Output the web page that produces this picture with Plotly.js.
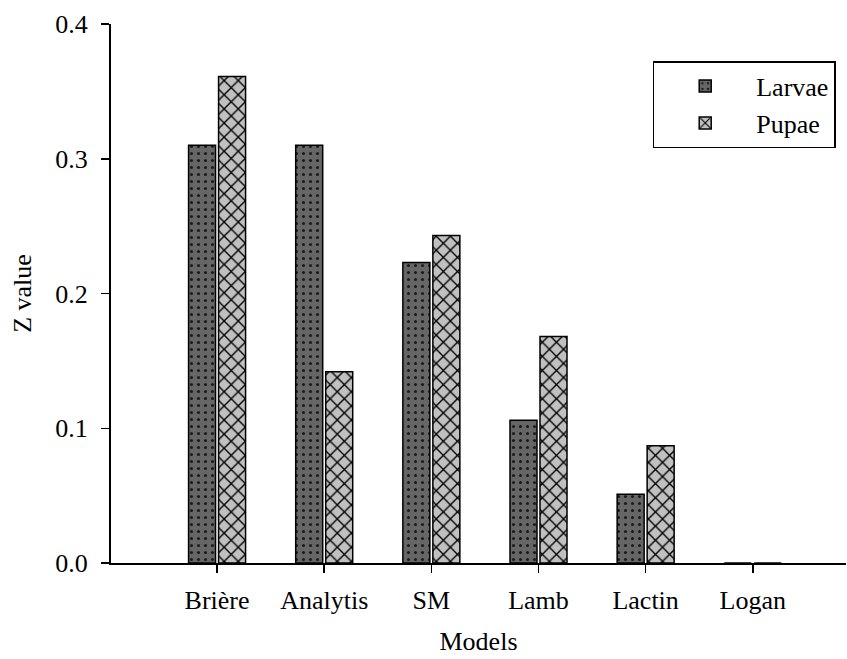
<!DOCTYPE html>
<html>
<head>
<meta charset="utf-8">
<script src="https://cdn.plot.ly/plotly-3.0.1.min.js"></script>
<style>html,body{margin:0;padding:0;background:#fff;}#chart{width:847px;height:659px;}</style>
</head>
<body>
<div id="chart"></div>
<script>
const models = ["Brière", "Analytis", "SM", "Lamb", "Lactin", "Logan"];
const larvae = [0.310, 0.310, 0.223, 0.106, 0.051, 0];
const pupae  = [0.361, 0.142, 0.243, 0.168, 0.087, 0];
const yTicks = [0.0, 0.1, 0.2, 0.3, 0.4];

const font = "Liberation Serif";

const traces = [
  {
    type: "bar", name: "Larvae", x: models, y: larvae,
    marker: {
      color: "#666666",
      line: {color: "#000", width: 1.5},
      pattern: {shape: ".", fgcolor: "#1a1a1a", bgcolor: "#666666", size: 7, solidity: 0.15}
    }
  },
  {
    type: "bar", name: "Pupae", x: models, y: pupae,
    marker: {
      color: "#c0c0c0",
      line: {color: "#000", width: 1.5},
      pattern: {shape: "x", fgcolor: "#000", bgcolor: "#c0c0c0", size: 10, solidity: 0.25}
    }
  }
];

const layout = {
  width: 847, height: 659,
  margin: {l: 111, r: 1, t: 24, b: 96},
  paper_bgcolor: "#fff", plot_bgcolor: "#fff",
  font: {family: font, size: 26, color: "#000"},
  barmode: "group", bargap: 0.44, bargroupgap: 0.1,
  showlegend: true,
  legend: {
    x: 0.986, xanchor: "right", y: 0.931, yanchor: "top",
    bordercolor: "#000", borderwidth: 1.5, bgcolor: "#fff",
    font: {family: font, size: 26, color: "#000"},
    itemwidth: 92, tracegroupgap: 0
  },
  xaxis: {
    range: [-0.99, 5.87],
    showline: true, linecolor: "#000", linewidth: 2,
    ticks: "outside", ticklen: 8, tickwidth: 1.5, tickcolor: "#000",
    ticklabelstandoff: 5,
    showgrid: false, zeroline: false,
    title: {text: "Models", font: {family: font, size: 26}, standoff: 18},
    tickfont: {family: font, size: 26}
  },
  yaxis: {
    range: [0, 0.4],
    tickvals: yTicks, ticktext: yTicks.map(v => v.toFixed(1)),
    showline: true, linecolor: "#000", linewidth: 2,
    ticks: "outside", ticklen: 8, tickwidth: 1.5, tickcolor: "#000",
    ticklabelstandoff: 8,
    showgrid: false, zeroline: false,
    title: {text: "Z value", font: {family: font, size: 26}, standoff: 16},
    tickfont: {family: font, size: 26}
  }
};

Plotly.newPlot("chart", traces, layout, {displayModeBar: false, staticPlot: true});
</script>
</body>
</html>
